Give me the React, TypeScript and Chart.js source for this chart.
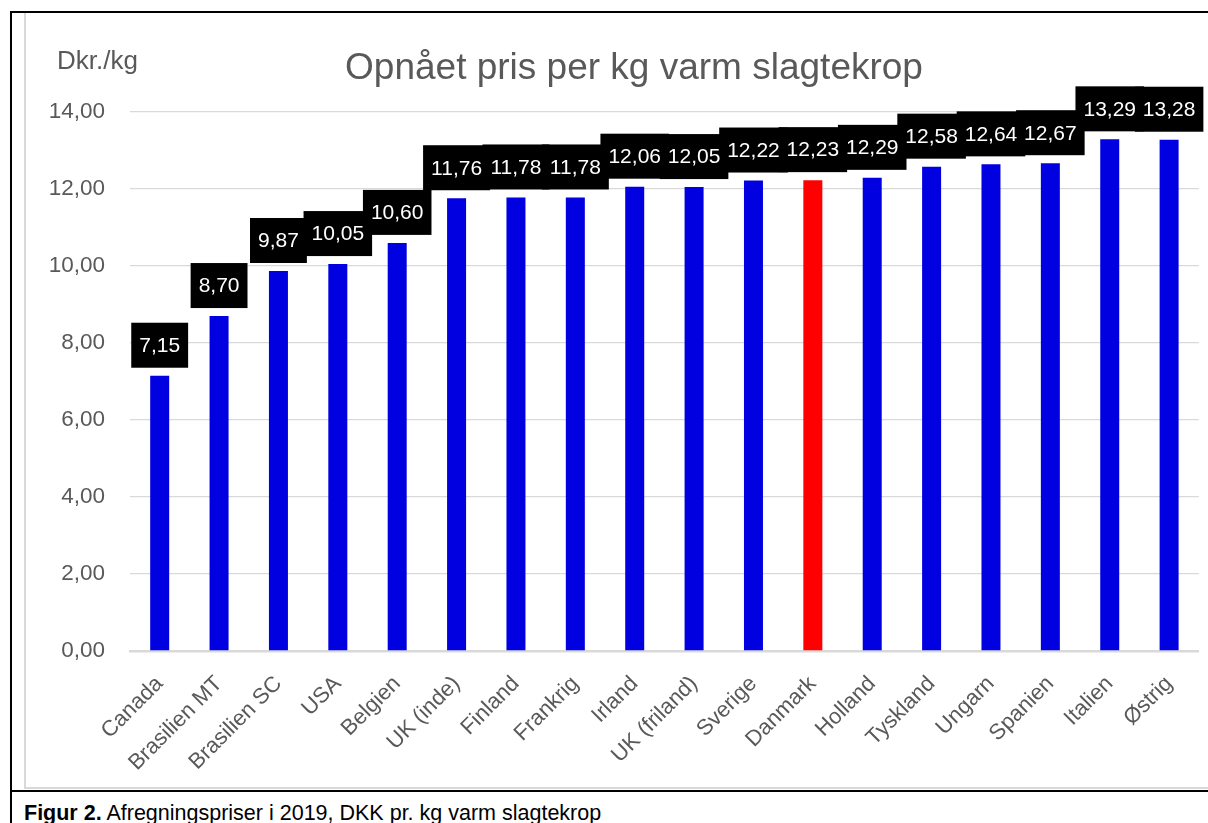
import React, { useEffect, useRef } from "react";
import { Chart, registerables } from "chart.js";

Chart.register(...registerables);

const categories = [
  "Canada", "Brasilien MT", "Brasilien SC", "USA", "Belgien", "UK (inde)",
  "Finland", "Frankrig", "Irland", "UK (friland)", "Sverige", "Danmark",
  "Holland", "Tyskland", "Ungarn", "Spanien", "Italien", "Østrig",
];
const prices = [
  7.15, 8.7, 9.87, 10.05, 10.6, 11.76, 11.78, 11.78, 12.06, 12.05, 12.22,
  12.23, 12.29, 12.58, 12.64, 12.67, 13.29, 13.28,
];
const highlight = "Danmark";
const yMin = 0;
const yMax = 14;
const yStep = 2;

const chartTitle = "Opnået pris per kg varm slagtekrop";
const unitLabel = "Dkr./kg";
const captionBold = "Figur 2.";
const captionText = " Afregningspriser i 2019, DKK pr. kg varm slagtekrop";

const BLUE = "rgb(0,0,224)";
const RED = "rgb(255,0,0)";
const GREY_TEXT = "#595959";
const GRID = "#d9d9d9";
const FONT = "'Liberation Sans', Arial, sans-serif";

const fmt = (v: number) => v.toFixed(2).replace(".", ",");

const labelBoxes = {
  id: "labelBoxes",
  afterDatasetsDraw(chart: any) {
    const ctx = chart.ctx;
    const meta = chart.getDatasetMeta(0);
    const ds = chart.data.datasets[0].data as number[];
    ctx.save();
    ctx.font = `21px ${FONT}`;
    const boxes: any[] = [];
    meta.data.forEach((el: any, i: number) => {
      const txt = fmt(ds[i]);
      const w = ctx.measureText(txt).width;
      const bottom = el.y - 8;
      const h = 45;
      boxes.push({ x: el.x, top: bottom - h, h, w, txt });
    });
    ctx.fillStyle = "#000";
    boxes.forEach((b) => {
      ctx.fillRect(b.x - b.w / 2 - 8, b.top, b.w + 16, b.h);
    });
    ctx.fillStyle = "#fff";
    ctx.textAlign = "center";
    ctx.textBaseline = "middle";
    boxes.forEach((b) => {
      ctx.fillText(b.txt, b.x, b.top + b.h / 2 + 1);
    });
    ctx.restore();
  },
};

export default function App() {
  const ref = useRef<HTMLCanvasElement>(null);

  useEffect(() => {
    if (!ref.current) return;
    const chart = new Chart(ref.current, {
      type: "bar",
      data: {
        labels: categories,
        datasets: [
          {
            data: prices,
            backgroundColor: categories.map((c) => (c === highlight ? RED : BLUE)),
            barPercentage: 0.32,
            categoryPercentage: 1,
          },
        ],
      },
      options: {
        animation: false,
        responsive: false,
        layout: { padding: { top: 99, right: 8, left: 0, bottom: 0 } },
        plugins: {
          legend: { display: false },
          tooltip: { enabled: false },
          title: { display: false },
        },
        scales: {
          x: {
            grid: { display: false, drawTicks: false },
            border: { display: true, color: GRID, width: 2.5 },
            ticks: {
              color: GREY_TEXT,
              font: { family: FONT, size: 22 },
              maxRotation: 45,
              minRotation: 45,
              autoSkip: false,
              padding: 20,
            },
            afterFit: (s: any) => {
              s.height = 136;
            },
          },
          y: {
            min: yMin,
            max: yMax,
            grid: { color: GRID, lineWidth: 1.3, drawTicks: false },
            border: { display: false },
            ticks: {
              stepSize: yStep,
              color: GREY_TEXT,
              font: { family: FONT, size: 22.5 },
              padding: 25,
              callback: (v: any) => fmt(Number(v)),
            },
            afterFit: (s: any) => {
              s.width = 104;
            },
          },
        },
      },
      plugins: [labelBoxes],
    });
    return () => chart.destroy();
  }, []);

  return (
    <div
      style={{
        position: "absolute",
        left: 0,
        top: 0,
        width: 1208,
        height: 823,
        overflow: "hidden",
        background: "#fff",
        fontFamily: FONT,
      }}
    >
      <div
        style={{
          position: "absolute",
          left: 10,
          top: 11,
          width: 1400,
          height: 900,
          borderLeft: "2px solid #000",
          borderTop: "2px solid #000",
        }}
      />
      <div
        style={{
          position: "absolute",
          left: 24,
          top: 13,
          width: 1400,
          height: 774,
          borderLeft: "2px solid " + GRID,
          borderBottom: "2px solid " + GRID,
        }}
      />
      <div
        style={{
          position: "absolute",
          left: 10,
          top: 790,
          width: 1400,
          height: 0,
          borderTop: "2px solid #000",
        }}
      />
      <canvas
        ref={ref}
        width={1182}
        height={774}
        style={{ position: "absolute", left: 26, top: 13, width: 1182, height: 774 }}
      />
      <div
        style={{
          position: "absolute",
          left: 0,
          width: 1268,
          top: 48,
          textAlign: "center",
          fontSize: 37,
          lineHeight: "37px",
          color: GREY_TEXT,
          whiteSpace: "nowrap",
        }}
      >
        {chartTitle}
      </div>
      <div
        style={{
          position: "absolute",
          left: 57,
          top: 47,
          fontSize: 26,
          lineHeight: "26px",
          color: GREY_TEXT,
          whiteSpace: "nowrap",
        }}
      >
        {unitLabel}
      </div>
      <div
        style={{
          position: "absolute",
          left: 24,
          top: 803,
          fontSize: 21.5,
          lineHeight: "21.5px",
          color: "#000",
          whiteSpace: "nowrap",
        }}
      >
        <b>{captionBold}</b>
        {captionText}
      </div>
    </div>
  );
}
